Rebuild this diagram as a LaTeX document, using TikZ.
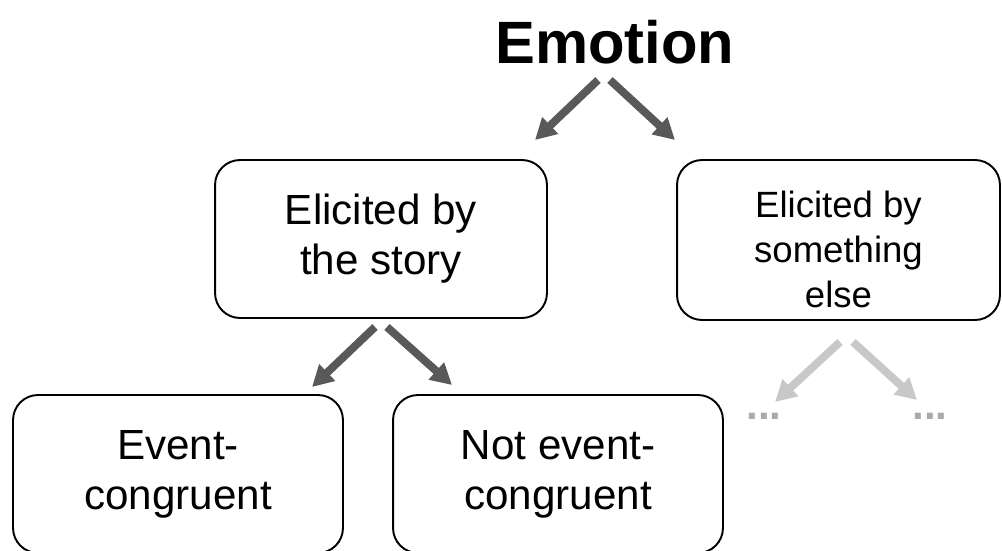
\documentclass[tikz,border=0pt]{standalone}
\usepackage{fontspec}
\setmainfont{Liberation Sans}
\usepackage{xcolor}
\usetikzlibrary{arrows.meta}
\definecolor{arrowdark}{HTML}{595959}
\definecolor{arrowlight}{HTML}{C8C8C8}
\definecolor{dotgray}{HTML}{AAAAAA}
\tikzset{
	box/.style={draw=black, line width=1.1pt, fill=white, rounded corners=0.5cm, align=center, inner sep=0pt},
	bigtext/.style={font=\fontsize{24}{28.5}\selectfont},
	smalltext/.style={font=\fontsize{20.8}{25.6}\selectfont},
	arr/.style={line width=4.5pt, draw=arrowdark, -{Triangle[width=12.5pt,length=12pt]}},
	faint/.style={arr, draw=arrowlight}
}

\begin{document}
\begin{tikzpicture}[x=0.02cm, y=-0.02cm]

			\useasboundingbox (0,0) rectangle (1002,551);
			\clip (0,0) rectangle (1002,551);

			% Title
			\node[font=\fontsize{34}{40}\selectfont\bfseries] (emotion) at (615,42) {Emotion};

			% Second row
			\node[box, bigtext, minimum width=6.64cm, minimum height=3.16cm] (story) at (381,239) {Elicited by\\the story};
			\node[box, smalltext, minimum width=6.46cm, minimum height=3.2cm] (other) at (838.5,240) {\rule{0pt}{0.9cm}Elicited by\\something\\else};

			% Third row
			\node[box, bigtext, minimum width=6.6cm, minimum height=3.16cm] (congruent) at (178,474) {Event-\\congruent};
			\node[box, bigtext, minimum width=6.6cm, minimum height=3.16cm] (notcongruent) at (558,474) {Not event-\\congruent};
			\node[font=\fontsize{24}{28}\selectfont\bfseries, text=dotgray] (dotsL) at (764,416) {...};
			\node[font=\fontsize{24}{28}\selectfont\bfseries, text=dotgray] (dotsR) at (930,416) {...};

			% Arrow ends
			\coordinate (emoL) at (598,80);
			\coordinate (emoR) at (610,80);
			\coordinate (storyTip) at (535,140);
			\coordinate (otherTip) at (675,140);
			\coordinate (storyL) at (375,327);
			\coordinate (storyR) at (387,327);
			\coordinate (congTip) at (312,387);
			\coordinate (notcongTip) at (452,385);
			\coordinate (otherL) at (840,342);
			\coordinate (otherR) at (853,342);
			\coordinate (dotsLTip) at (775,402);
			\coordinate (dotsRTip) at (917,400);

			% Arrows
			\draw[arr] (emoL) -- (storyTip);
			\draw[arr] (emoR) -- (otherTip);
			\draw[arr] (storyL) -- (congTip);
			\draw[arr] (storyR) -- (notcongTip);
			\draw[faint] (otherL) -- (dotsLTip);
			\draw[faint] (otherR) -- (dotsRTip);

		\end{tikzpicture}
\end{document}
